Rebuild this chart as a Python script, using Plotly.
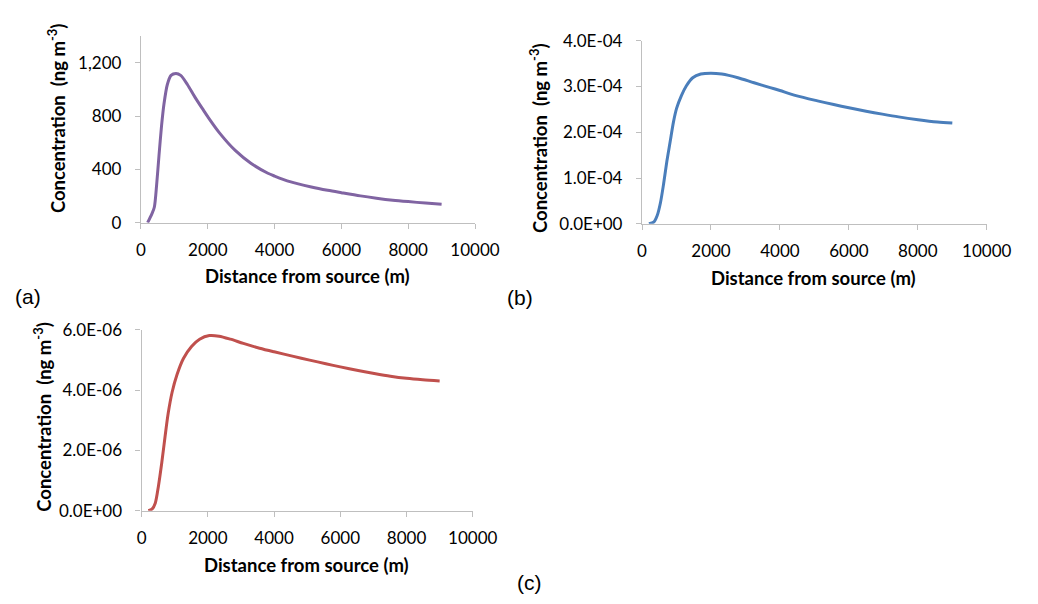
import plotly.graph_objects as go

# ---- data ----
dist_a = [200, 330, 400, 470, 540, 615, 690, 790, 900, 1050, 1190, 1390, 1620, 1870, 2000,
          2350, 2830, 3300, 3800, 4000, 4460, 5100, 5590, 6000, 6570, 7050, 7540, 8000, 8520, 9000]
conc_a = [0, 68, 116, 286, 504, 722, 892, 1037, 1105, 1120, 1105, 1037, 940, 844, 795,
          674, 540, 444, 371, 350, 308, 268, 243, 225, 201, 184, 169, 158, 147, 138]

dist_b = [200, 346, 440, 534, 627, 721, 815, 908, 1002, 1142, 1283, 1470, 1704, 1994, 2313,
          2781, 3249, 3717, 4000, 4466, 5089, 5560, 6000, 6500, 6971, 7441, 8006, 8570, 9000]
conc_b = [0, 0.042e-4, 0.18e-4, 0.46e-4, 0.88e-4, 1.37e-4, 1.79e-4, 2.21e-4, 2.52e-4, 2.80e-4,
          3.01e-4, 3.19e-4, 3.27e-4, 3.29e-4, 3.27e-4, 3.19e-4, 3.08e-4, 2.975e-4, 2.91e-4,
          2.80e-4, 2.685e-4, 2.605e-4, 2.535e-4, 2.46e-4, 2.395e-4, 2.335e-4, 2.275e-4, 2.225e-4, 2.20e-4]

dist_c = [200, 313, 411, 509, 607, 704, 802, 920, 1067, 1262, 1507, 1751, 2045, 2339, 2681,
          3072, 3562, 4002, 4585, 5073, 5561, 6000, 6537, 7024, 7512, 8000, 8488, 9000]
conc_c = [0, 0.05e-6, 0.25e-6, 0.83e-6, 1.58e-6, 2.43e-6, 3.23e-6, 3.93e-6, 4.51e-6, 5.05e-6,
          5.45e-6, 5.69e-6, 5.81e-6, 5.79e-6, 5.69e-6, 5.55e-6, 5.39e-6, 5.27e-6, 5.12e-6,
          4.995e-6, 4.875e-6, 4.77e-6, 4.65e-6, 4.55e-6, 4.46e-6, 4.39e-6, 4.34e-6, 4.30e-6]

x_ticks = [0, 2000, 4000, 6000, 8000, 10000]
x_labels = ["0", "2000", "4000", "6000", "8000", "10000"]
y_ticks_a = [0, 400, 800, 1200]
y_labels_a = ["0", "400", "800", "1,200"]
y_ticks_b = [0, 1e-4, 2e-4, 3e-4, 4e-4]
y_labels_b = ["0.0E+00", "1.0E-04", "2.0E-04", "3.0E-04", "4.0E-04"]
y_ticks_c = [0, 2e-6, 4e-6, 6e-6]
y_labels_c = ["0.0E+00", "2.0E-06", "4.0E-06", "6.0E-06"]

W, H = 1038, 604
AXIS_GREY = "#bfbfbf"
TICK_FONT = dict(family="Lato", size=17, color="#000000")
TITLE_FONT = dict(family="Lato", size=18.5, color="#000000")

def px_x(v):
    return v / W

def px_y(v):
    return 1 - v / H

fig = go.Figure()
for xs, ys, col, xa, ya in [(dist_a, conc_a, "#8064a2", "x", "y"),
                            (dist_b, conc_b, "#4a7ebb", "x2", "y2"),
                            (dist_c, conc_c, "#c0504d", "x3", "y3")]:
    fig.add_trace(go.Scatter(x=xs, y=ys, mode="lines",
                             line=dict(color=col, width=3, shape="spline", smoothing=0.8),
                             xaxis=xa, yaxis=ya, showlegend=False))

def xaxis(domain, anchor):
    return dict(domain=domain, anchor=anchor, range=[0, 10000], tickvals=x_ticks, ticktext=x_labels,
                showgrid=False, zeroline=False, showline=True, linecolor=AXIS_GREY, linewidth=1.3,
                ticks="outside", ticklen=5, tickcolor=AXIS_GREY, tickwidth=1.3,
                tickfont=TICK_FONT, ticklabelstandoff=7, fixedrange=True)

def yaxis(domain, anchor, rng, vals, text):
    return dict(domain=domain, anchor=anchor, range=rng, tickvals=vals, ticktext=text,
                showgrid=False, zeroline=False, showline=True, linecolor=AXIS_GREY, linewidth=1.3,
                ticks="outside", ticklen=5, tickcolor=AXIS_GREY, tickwidth=1.3,
                tickfont=TICK_FONT, ticklabelstandoff=10, fixedrange=True)

fig.update_layout(
    width=W, height=H, margin=dict(l=0, r=0, t=0, b=0),
    paper_bgcolor="white", plot_bgcolor="white",
    xaxis=xaxis([px_x(140), px_x(484)], "y"),
    yaxis=yaxis([px_y(219.3), px_y(26)], "x", [0, 1400], y_ticks_a, y_labels_a),
    xaxis2=xaxis([px_x(656), px_x(1011)], "y2"),
    yaxis2=yaxis([px_y(220.5), px_y(30.7)], "x2", [0, 4e-4], y_ticks_b, y_labels_b),
    xaxis3=xaxis([px_x(140.7), px_x(481.7)], "y3"),
    yaxis3=yaxis([px_y(517.7), px_y(330.3)], "x3", [0, 6e-6], y_ticks_c, y_labels_c),
)

ytitle = "<b>Concentration  (ng m<sup>-3</sup>)</b>"
xtitle = "<b>Distance from source (m)</b>"

annots = [
    (52.5, 111, ytitle, -90), (550, 131.5, ytitle, -90), (38.5, 420, ytitle, -90),
    (312, 275, xtitle, 0), (833, 277, xtitle, 0), (310, 574, xtitle, 0),
]
for x, y, t, ang in annots:
    fig.add_annotation(x=px_x(x), y=px_y(y), xref="paper", yref="paper", text=t, textangle=ang,
                       showarrow=False, xanchor="center", yanchor="middle", font=TITLE_FONT)

for x, y, t in [(24, 296, "(a)"), (530, 297, "(b)"), (540, 592, "(c)")]:
    fig.add_annotation(x=px_x(x), y=px_y(y), xref="paper", yref="paper", text=t, showarrow=False,
                       xanchor="center", yanchor="middle",
                       font=dict(family="Liberation Sans", size=21, color="#000000"))

post = (
    "document.documentElement.style.overflow='hidden';"
    "document.body.style.margin='0';document.body.style.overflow='hidden';"
)
fig.write_html("out.html", config={"displayModeBar": False}, post_script=post)
